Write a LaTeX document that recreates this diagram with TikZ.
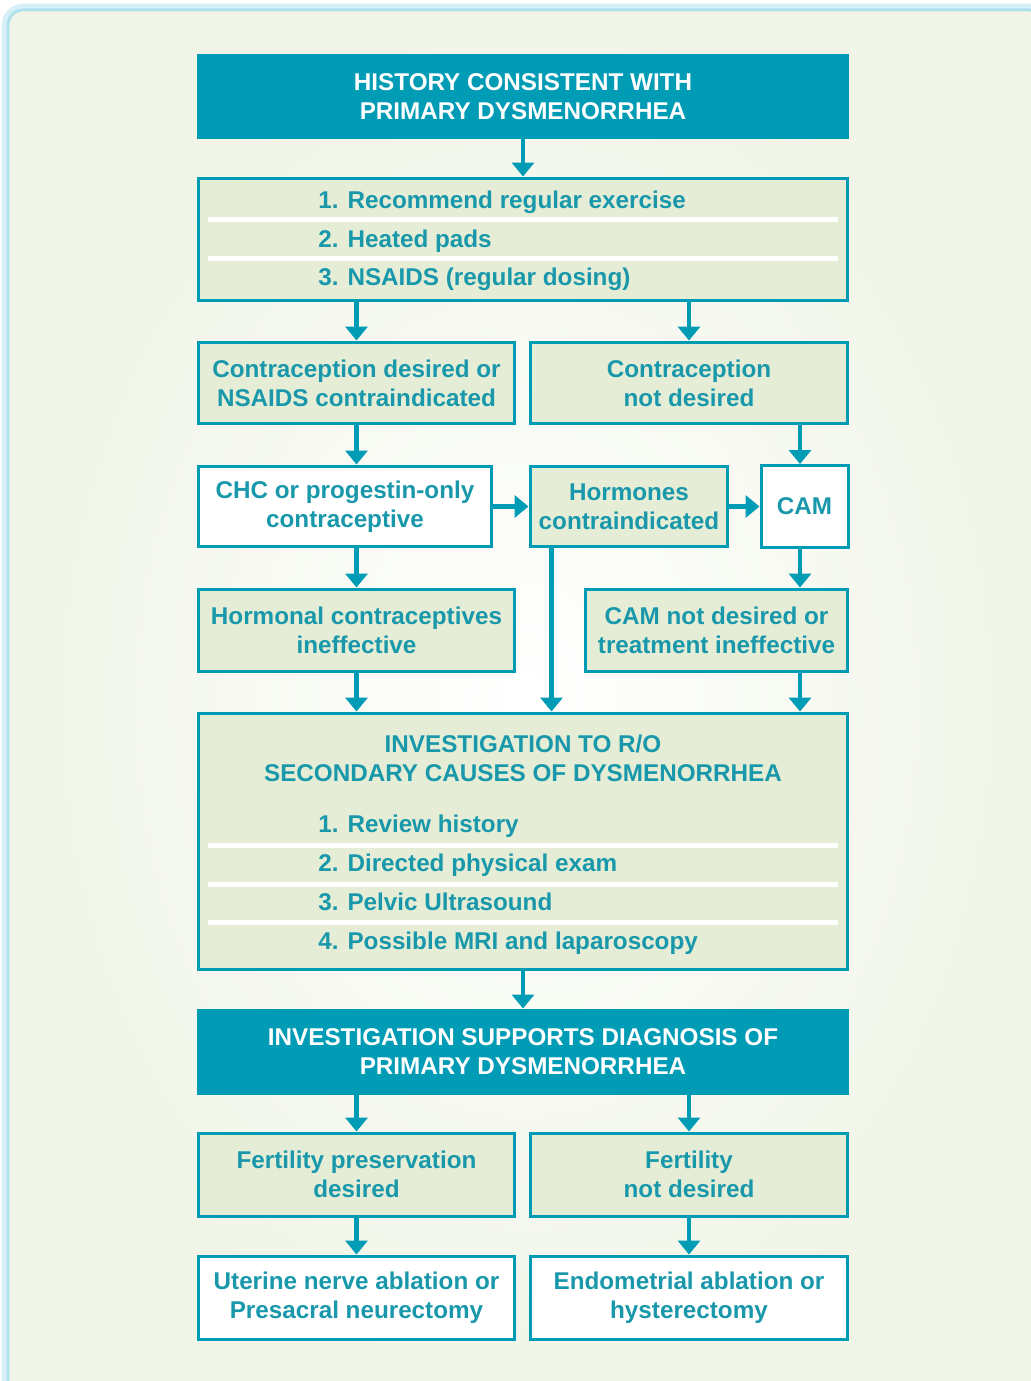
\documentclass[tikz,border=0pt]{standalone}
\usepackage{fontspec}
\setmainfont{Liberation Sans}
\usetikzlibrary{arrows.meta}
\definecolor{flowteal}{RGB}{0,155,181}
\definecolor{flowtext}{RGB}{24,152,170}
\definecolor{flowgreen}{RGB}{229,237,214}
\definecolor{pagecream}{RGB}{241,245,232}
\definecolor{pageedge}{RGB}{175,224,236}
\tikzset{
  box/.style={draw=flowteal, line width=0.06cm, fill=flowgreen, text=flowtext, align=center, inner sep=0pt,
    font=\fontsize{13.8}{16.5}\selectfont\bfseries},
  wbox/.style={box, fill=white},
  headbox/.style={box, fill=flowteal, text=white, minimum width=13cm, minimum height=1.66cm},
  item/.style={anchor=base west, inner sep=0pt, text=flowtext, font=\fontsize{13.8}{16.5}\selectfont\bfseries},
  sepline/.style={white, line width=0.1cm},
  arr/.style={flowteal, line width=0.09cm, -{Triangle[width=0.44cm,length=0.28cm]}}
}
\begin{document}
\begin{tikzpicture}[x=0.02cm, y=-0.02cm]
\useasboundingbox (0,0) rectangle (1030,1381);
\fill[white] (0,0) rectangle (1030,1381);
\draw[pageedge!50, line width=0.25cm, rounded corners=0.3cm] (8,10) rectangle (1045,1400);
\shade[inner color=white, outer color=pagecream, rounded corners=0.3cm] (8,10) rectangle (1045,1400);
\draw[pageedge, line width=0.06cm, rounded corners=0.3cm] (8,10) rectangle (1045,1400);

\node[headbox] (top) at (523,96.5) {HISTORY CONSISTENT WITH\\PRIMARY DYSMENORRHEA};
\node[box, minimum width=13cm, minimum height=2.46cm] (list) at (523,239.5) {};
\draw[sepline] (208,220) -- (838,220);
\draw[sepline] (208,259) -- (838,259);
\node[item] (l1) at (318,208.5) {1. Recommend regular exercise};
\node[item] (l2) at (318,247.5) {2. Heated pads};
\node[item] (l3) at (318,285.5) {3. NSAIDS (regular dosing)};

\node[box, minimum width=6.34cm, minimum height=1.64cm] (desired) at (356.5,383) {Contraception desired or\\NSAIDS contraindicated};
\node[box, minimum width=6.36cm, minimum height=1.64cm] (notdes) at (689,383) {Contraception\\not desired};

\node[wbox, minimum width=5.88cm, minimum height=1.62cm] (chc) at (345,506.5) {CHC or progestin-only\\contraceptive};
\node[box, minimum width=3.96cm, minimum height=1.62cm] (hormc) at (629,506.5) {Hormones\\contraindicated};
\node[wbox, minimum width=1.74cm, minimum height=1.64cm] (cam) at (804.5,506.5) {CAM};
\coordinate (camline) at ([xshift=-0.09cm]cam.center);

\node[box, minimum width=6.34cm, minimum height=1.66cm] (hormineff) at (356.5,630.5) {Hormonal contraceptives\\ineffective};
\node[box, minimum width=5.26cm, minimum height=1.66cm] (camnot) at (716.5,630.5) {CAM not desired or\\treatment ineffective};

\node[box, minimum width=13cm, minimum height=5.14cm] (invest) at (523,841.5) {};
\node[item, anchor=center, align=center] (invtitle) at (523,758.5) {INVESTIGATION TO R/O\\SECONDARY CAUSES OF DYSMENORRHEA};
\draw[sepline] (208,845) -- (838,845);
\draw[sepline] (208,884) -- (838,884);
\draw[sepline] (208,922) -- (838,922);
\node[item] (i1) at (318,832.5) {1. Review history};
\node[item] (i2) at (318,871.5) {2. Directed physical exam};
\node[item] (i3) at (318,910.5) {3. Pelvic Ultrasound};
\node[item] (i4) at (318,949.5) {4. Possible MRI and laparoscopy};

\node[headbox] (head2) at (523,1051.5) {INVESTIGATION SUPPORTS DIAGNOSIS OF\\PRIMARY DYSMENORRHEA};
\node[box, minimum width=6.34cm, minimum height=1.66cm] (fertpres) at (356.5,1174.5) {Fertility preservation\\desired};
\node[box, minimum width=6.36cm, minimum height=1.66cm] (fertnot) at (689,1174.5) {Fertility\\not desired};
\node[wbox, minimum width=6.34cm, minimum height=1.66cm] (uterine) at (356.5,1297.5) {Uterine nerve ablation or\\Presacral neurectomy};
\node[wbox, minimum width=6.36cm, minimum height=1.66cm] (endom) at (689,1297.5) {Endometrial ablation or\\hysterectomy};

\draw[arr] (top) -- (list);
\draw[arr] (list.south -| desired) -- (desired);
\draw[arr] (list.south -| notdes) -- (notdes);
\draw[arr] (desired) -- (desired |- chc.north);
\draw[arr] (camline |- notdes.south) -- (camline |- cam.north);
\draw[arr] (chc) -- (hormc);
\draw[arr] (hormc) -- (cam);
\draw[arr] (hormineff |- chc.south) -- (hormineff);
\draw[arr] (camline |- cam.south) -- (camline |- camnot.north);
\draw[arr] (hormineff) -- (hormineff |- invest.north);
\draw[arr] ([xshift=0.46cm]hormc.south west) -- ([xshift=0.46cm]hormc.south west |- invest.north);
\draw[arr] (camline |- camnot.south) -- (camline |- invest.north);
\draw[arr] (invest) -- (head2);
\draw[arr] (head2.south -| fertpres) -- (fertpres);
\draw[arr] (head2.south -| fertnot) -- (fertnot);
\draw[arr] (fertpres) -- (uterine);
\draw[arr] (fertnot) -- (endom);
\end{tikzpicture}
\end{document}
